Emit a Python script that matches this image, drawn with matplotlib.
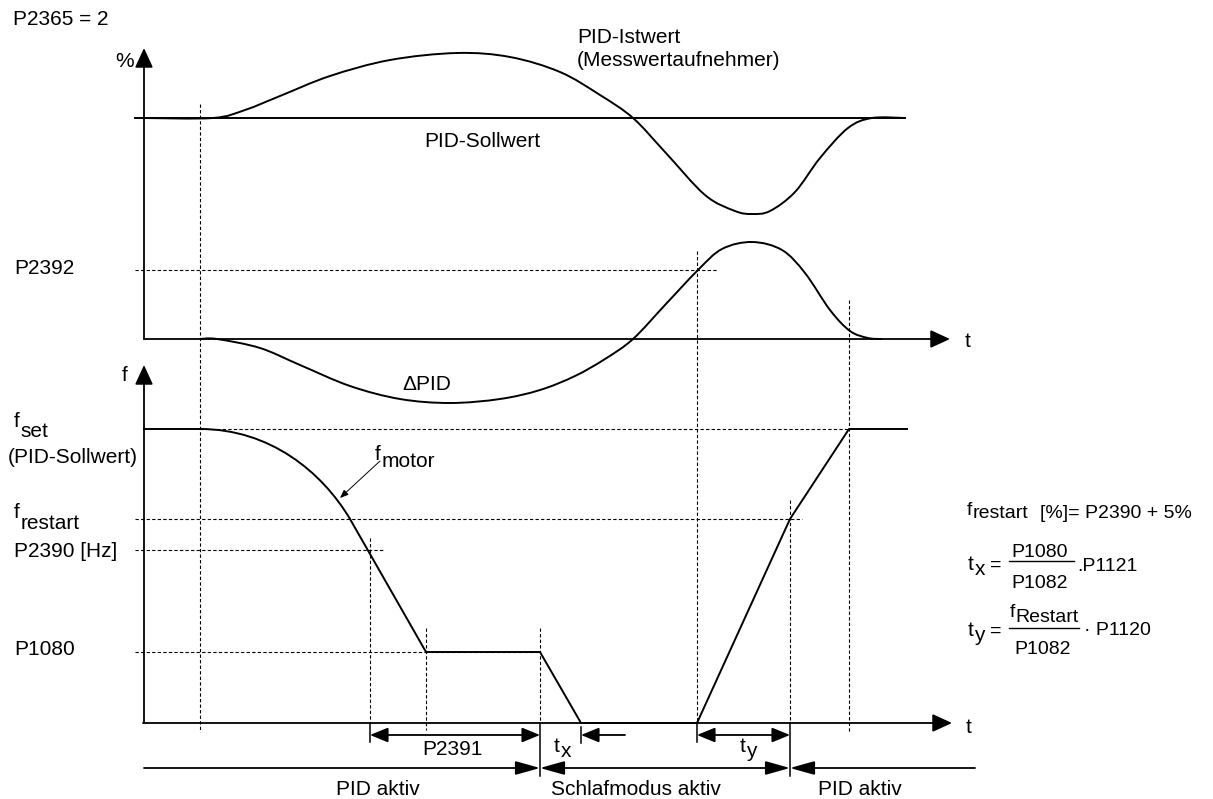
import matplotlib
matplotlib.use("Agg")
import matplotlib.pyplot as plt
from matplotlib.path import Path
from matplotlib.patches import PathPatch, ArrowStyle

plt.rcParams['font.family'] = ['Liberation Sans', 'DejaVu Sans']

# --- curve points (pixel coords) ---
ist_x = [144, 213, 245, 280, 330, 390, 457, 510, 560, 600, 633, 665, 705, 735, 752, 770, 795, 820, 848, 872, 905]
ist_y = [118, 118, 110, 96, 76, 60, 53, 57, 72, 95, 118, 152, 195, 211, 214, 211, 192, 158, 128, 118, 118]

dpid_x = [200, 217, 260, 300, 350, 400, 450, 500, 540, 575, 605, 633, 665, 698, 722, 752, 782, 805, 830, 850, 868, 882]
dpid_y = [339, 339, 348, 365, 386, 399, 403, 399, 390, 376, 359, 339, 305, 270, 249, 242, 250, 273, 310, 331, 338, 339]

fmot_curve = [(200, 429), (270, 429), (322, 472), (350, 519)]
fmot_x = [144, 200]
fmot_y = [429, 429]
fmot2_x = [350, 426, 540, 581, 697, 790, 849, 907]
fmot2_y = [519, 652, 652, 723, 723, 519, 429, 429]

# dashed levels: (y, x0, x1)
h_levels = [(270, 135, 717), (429, 200, 849), (519, 135, 802), (550, 135, 383), (652, 135, 540)]
# dashed markers: (x, y0, y1)
v_marks = [(200, 104, 732), (370, 538, 723), (426, 628, 730), (540, 628, 723),
           (697, 251, 723), (790, 500, 723), (849, 300, 732)]
# solid ticks below the t axis: (x, y0, y1)
ticks = [(370, 723, 742), (540, 723, 776), (581, 727, 743), (697, 723, 742), (790, 723, 776)]

left_labels = [(14, 274, 'P2392'), (14, 557, 'P2390 [Hz]'), (14, 655, 'P1080'),
               (8, 463, '(PID-Sollwert)')]

fig = plt.figure(figsize=(12.13, 7.99), dpi=100)
ax = fig.add_axes([0, 0, 1, 1])
ax.set_xlim(0, 1213)
ax.set_ylim(799, 0)
ax.axis('off')

K = 'black'
LW = 1.4
FS = 15
FF = 14


def catmull(xs, ys):
    p = list(zip(xs, ys))
    verts = [p[0]]
    codes = [Path.MOVETO]
    for i in range(len(p) - 1):
        p0 = p[i - 1] if i > 0 else p[i]
        p1, p2 = p[i], p[i + 1]
        p3 = p[i + 2] if i + 2 < len(p) else p[i + 1]
        c1 = (p1[0] + (p2[0] - p0[0]) / 6, p1[1] + (p2[1] - p0[1]) / 6)
        c2 = (p2[0] - (p3[0] - p1[0]) / 6, p2[1] - (p3[1] - p1[1]) / 6)
        verts += [c1, c2, p2]
        codes += [Path.CURVE4] * 3
    return Path(verts, codes)


def arrow(x0, y0, x1, y1, hl=1.2, hw=0.55, both=False):
    st = ArrowStyle('<|-|>' if both else '-|>', head_length=hl, head_width=hw)
    ax.annotate('', xy=(x1, y1), xytext=(x0, y0),
                arrowprops=dict(arrowstyle=st, color=K, lw=1.3,
                                mutation_scale=10, shrinkA=0, shrinkB=0))


def sub(x, y, base, s, dy=10, fs=FS, **kw):
    t = ax.text(x, y, base, fontsize=fs, va='baseline', **kw)
    ax.annotate(s, xy=(1, 0), xycoords=t, xytext=(0.3, -dy * 0.72),
                textcoords='offset points', fontsize=fs, va='bottom')
    return t


# axes
arrow(144, 339, 144, 48)
arrow(144, 339, 950, 339)
arrow(144, 723, 144, 365)
arrow(143, 723, 952, 723)
ax.plot([135, 905], [118, 118], color=K, lw=LW)

# dashed guides
for y, a, b in h_levels:
    ax.plot([a, b], [y, y], color=K, lw=0.8, ls=(0, (3, 2)))
for x, a, b in v_marks:
    ax.plot([x, x], [a, b], color=K, lw=0.8, ls=(0, (3, 2)))
for x, a, b in ticks:
    ax.plot([x, x], [a, b], color=K, lw=1.1)

# curves
ax.add_patch(PathPatch(catmull(ist_x, ist_y), fill=False, color=K, lw=LW))
ax.add_patch(PathPatch(catmull(dpid_x, dpid_y), fill=False, color=K, lw=LW))
ax.plot(fmot_x, fmot_y, color=K, lw=LW)
ax.add_patch(PathPatch(Path(fmot_curve, [Path.MOVETO, Path.CURVE4, Path.CURVE4, Path.CURVE4]),
                       fill=False, color=K, lw=LW))
ax.plot(fmot2_x, fmot2_y, color=K, lw=LW)

# texts
ax.text(13, 25, 'P2365 = 2', fontsize=FS, va='baseline')
ax.text(115, 67, '%', fontsize=FS, va='baseline')
ax.text(577, 43, 'PID-Istwert', fontsize=FS, va='baseline')
ax.text(577, 66, '(Messwertaufnehmer)', fontsize=FS, va='baseline')
ax.text(424, 147, 'PID-Sollwert', fontsize=FS, va='baseline')
ax.text(965, 347, 't', fontsize=FS, va='baseline')
ax.text(122, 381, 'f', fontsize=FS, va='baseline')
ax.text(402, 390, '\u0394PID', fontsize=FS, va='baseline')
sub(14, 427, 'f', 'set', dy=10)
sub(14, 518, 'f', 'restart', dy=11)
for x, y, s in left_labels:
    ax.text(x, y, s, fontsize=FS, va='baseline')
ax.text(966, 733, 't', fontsize=FS, va='baseline')
sub(375, 460, 'f', 'motor', dy=7)
ax.annotate('', xy=(340, 498), xytext=(380, 461),
            arrowprops=dict(arrowstyle=ArrowStyle('-|>', head_length=0.5, head_width=0.2),
                            color=K, lw=0.7, mutation_scale=10, shrinkA=0, shrinkB=0))

# bottom dimension arrows
arrow(370, 735, 540, 735, hl=1.1, hw=0.45, both=True)
ax.text(452, 755, 'P2391', fontsize=FS, ha='center', va='baseline')
arrow(625, 735, 581, 735, hl=1.1, hw=0.45)
sub(554, 752, 't', 'x', dy=5)
arrow(697, 735, 790, 735, hl=1.1, hw=0.45, both=True)
sub(740, 752, 't', 'y', dy=5)

arrow(144, 768, 540, 768, hl=1.5, hw=0.42)
arrow(790, 768, 540, 768, hl=1.5, hw=0.42, both=True)
arrow(975, 768, 790, 768, hl=1.5, hw=0.42)
ax.text(378, 795, 'PID aktiv', fontsize=FS, ha='center', va='baseline')
ax.text(636, 795, 'Schlafmodus aktiv', fontsize=FS, ha='center', va='baseline')
ax.text(860, 795, 'PID aktiv', fontsize=FS, ha='center', va='baseline')

# formulas
sub(967, 515, 'f', 'restart', dy=3, fs=FF)
ax.text(1040, 518, '[%]= P2390 + 5%', fontsize=FF, va='baseline')
sub(968, 570, 't', 'x', dy=5, fs=FF + 1)
ax.text(990, 570, '=', fontsize=FF, va='baseline')
ax.text(1040, 557, 'P1080', fontsize=FF, ha='center', va='baseline')
ax.plot([1009, 1074], [561, 561], color=K, lw=1.0)
ax.text(1040, 588, 'P1082', fontsize=FF, ha='center', va='baseline')
ax.text(1077, 571, '.P1121', fontsize=FF, va='baseline')
sub(968, 636, 't', 'y', dy=5, fs=FF + 1)
ax.text(990, 636, '=', fontsize=FF, va='baseline')
sub(1010, 617, 'f', 'Restart', dy=5, fs=FF)
ax.plot([1009, 1079], [628, 628], color=K, lw=1.0)
ax.text(1043, 654, 'P1082', fontsize=FF, ha='center', va='baseline')
ax.text(1084, 635, '\u00b7 P1120', fontsize=FF, va='baseline')

fig.savefig('out.png', dpi=100)
